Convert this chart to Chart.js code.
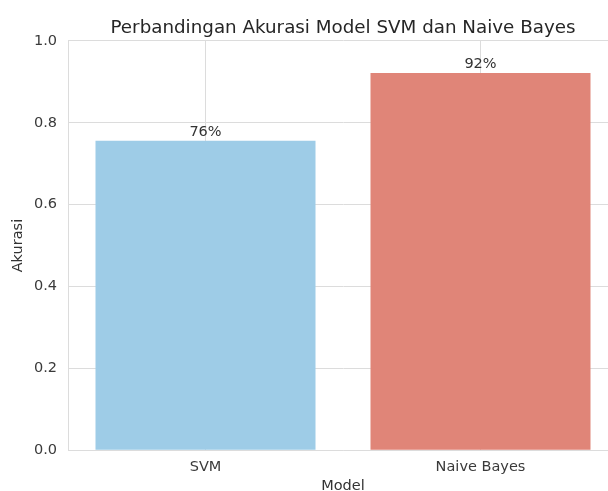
<!DOCTYPE html>
<html>
<head>
<meta charset="utf-8">
<script src="https://cdn.jsdelivr.net/npm/chart.js@4.4.0/dist/chart.umd.min.js"></script>
<style>
html,body{margin:0;padding:0;background:#fff;overflow:hidden;width:608px;height:491px;}
#wrap{position:relative;left:0;top:0;width:608px;height:491px;overflow:hidden;}
#c{position:absolute;left:0;top:0;}
</style>
</head>
<body>
<div id="wrap"><canvas id="c" width="686" height="499"></canvas></div>
<script>
const categories = ["SVM", "Naive Bayes"];
const accuracy = [0.756, 0.922];
const barColors = ["#9ecce7", "#e08578"];
const yTicks = [0.0, 0.2, 0.4, 0.6, 0.8, 1.0];
const titleText = "Perbandingan Akurasi Model SVM dan Naive Bayes";
const xLabel = "Model";
const yLabel = "Akurasi";

const FONT = "'DejaVu Sans', sans-serif";
const gridColor = "#dcdcdc";

const valueLabels = {
  id: "valueLabels",
  afterDatasetsDraw(chart) {
    const ctx = chart.ctx;
    const meta = chart.getDatasetMeta(0);
    ctx.save();
    ctx.font = "14.5px " + FONT;
    ctx.fillStyle = "#333333";
    ctx.textAlign = "center";
    ctx.textBaseline = "bottom";
    meta.data.forEach((bar, i) => {
      ctx.fillText(Math.round(accuracy[i] * 100) + "%", bar.x, bar.y - 1);
    });
    ctx.restore();
  }
};

new Chart(document.getElementById("c"), {
  type: "bar",
  data: {
    labels: categories,
    datasets: [{
      data: accuracy,
      backgroundColor: barColors,
      borderWidth: 0,
      barPercentage: 0.8,
      categoryPercentage: 1.0
    }]
  },
  options: {
    responsive: false,
    animation: false,
    devicePixelRatio: 1,
    layout: { padding: 0 },
    plugins: {
      legend: { display: false },
      tooltip: { enabled: false },
      title: {
        display: true,
        text: titleText,
        color: "#262626",
        font: { family: FONT, size: 18.3, weight: "normal", lineHeight: 1.2 },
        padding: { top: 17, bottom: 2 }
      }
    },
    scales: {
      x: {
        offset: true,
        grid: { display: true, offset: false, color: gridColor, lineWidth: 1, drawTicks: false },
        border: { display: true, color: gridColor, width: 1 },
        ticks: { color: "#3a3a3a", font: { family: FONT, size: 14.5 }, padding: 8 },
        title: {
          display: true, text: xLabel, color: "#333333",
          font: { family: FONT, size: 14.5, lineHeight: 1.2 },
          padding: { top: -6, bottom: 4 }
        }
      },
      y: {
        min: 0, max: 1.0,
        afterBuildTicks(scale) { scale.ticks = yTicks.map(v => ({ value: v })); },
        afterFit(scale) { scale.width = 68; },
        grid: { color: gridColor, lineWidth: 1, drawTicks: false },
        border: { display: true, color: gridColor, width: 1 },
        ticks: {
          color: "#3a3a3a", font: { family: FONT, size: 14.5 }, padding: 11,
          callback: v => Number(v).toFixed(1)
        },
        title: {
          display: true, text: yLabel, color: "#333333",
          font: { family: FONT, size: 14.5, lineHeight: 1.2 },
          padding: { top: 10, bottom: 4 }
        }
      },
      yRight: {
        type: "linear",
        position: "right",
        min: 0, max: 1,
        afterFit(scale) { scale.width = 68; },
        grid: { display: false, drawTicks: false },
        border: { display: false },
        ticks: { display: false }
      }
    }
  },
  plugins: [valueLabels]
});
</script>
</body>
</html>
